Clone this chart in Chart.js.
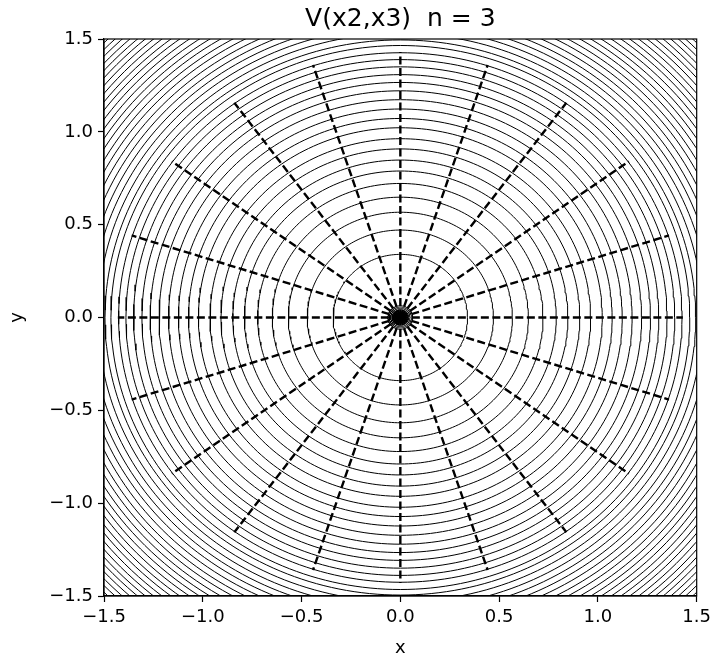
<!DOCTYPE html>
<html>
<head>
<meta charset="utf-8">
<script src="https://cdn.jsdelivr.net/npm/chart.js@4/dist/chart.umd.min.js"></script>
<style>
  html, body { margin: 0; padding: 0; background: #fff; }
  #wrap { width: 716px; height: 659px; }
</style>
</head>
<body>
<div id="wrap"><canvas id="contourChart"></canvas></div>
<script>
// contour radii (x units), inner blob first
var innerRadii = [0.014, 0.021, 0.028, 0.035, 0.042, 0.049, 0.056, 0.063];
var contourRadii = [
  0.340, 0.471, 0.567, 0.648, 0.722, 0.789, 0.848, 0.908, 0.963, 1.022,
  1.072, 1.123, 1.173, 1.221, 1.266, 1.308, 1.350, 1.389, 1.426, 1.465,
  1.495, 1.530, 1.564, 1.597, 1.629, 1.661, 1.693, 1.723, 1.754, 1.783,
  1.812, 1.841, 1.870, 1.897, 1.925, 1.952, 1.979, 2.005, 2.031, 2.057,
  2.082, 2.107
];
// dashed rays: directions (degrees) and length
var rayAngles = [0, 18, 36, 54, 72, 90, 108, 126, 144, 162, 180, 198, 216, 234, 252, 270, 288, 306, 324, 342];
var rayLength = 1.43;
var tickValues = [-1.5, -1.0, -0.5, 0.0, 0.5, 1.0, 1.5];
var titleText = 'V(x2,x3)  n = 3';

function circlePoints(r) {
  var pts = [];
  var n = 240;
  for (var i = 0; i <= n; i++) {
    var a = (i / n) * Math.PI * 2;
    pts.push({ x: r * Math.cos(a), y: r * Math.sin(a) });
  }
  return pts;
}

var datasets = [];
innerRadii.concat(contourRadii).forEach(function (r) {
  datasets.push({
    data: circlePoints(r),
    showLine: true,
    borderColor: '#000',
    borderWidth: 1,
    pointRadius: 0,
    tension: 0
  });
});
rayAngles.forEach(function (deg) {
  var a = deg * Math.PI / 180;
  datasets.push({
    data: [{ x: 0, y: 0 }, { x: rayLength * Math.cos(a), y: rayLength * Math.sin(a) }],
    showLine: true,
    borderColor: '#000',
    borderWidth: 2.4,
    borderDash: [8, 3.5],
    pointRadius: 0
  });
});

// title centred over the plot area + full frame, like matplotlib
var plotDecor = {
  id: 'plotDecor',
  afterDraw: function (chart) {
    var ctx = chart.ctx, area = chart.chartArea;
    ctx.save();
    ctx.strokeStyle = '#000';
    ctx.lineWidth = 1.2;
    ctx.strokeRect(area.left, area.top, area.right - area.left, area.bottom - area.top);
    ctx.fillStyle = '#000';
    ctx.font = '25px "DejaVu Sans"';
    ctx.textAlign = 'center';
    ctx.textBaseline = 'alphabetic';
    ctx.fillText(titleText, (area.left + area.right) / 2, area.top - 13);
    ctx.restore();
  }
};

function axisOpts(title, isX) {
  return {
    type: 'linear',
    min: -1.5,
    max: 1.5,
    afterBuildTicks: function (scale) {
      scale.ticks = tickValues.map(function (v) { return { value: v }; });
    },
    afterFit: function (scale) {
      if (isX) scale.height = 63; else scale.width = 104;
    },
    grid: {
      drawOnChartArea: false,
      drawTicks: true,
      tickLength: 6,
      tickWidth: 1.2,
      tickColor: '#000'
    },
    border: { display: true, color: '#000', width: 1.2 },
    ticks: {
      color: '#000',
      padding: 5,
      font: { family: 'DejaVu Sans', size: 18 },
      callback: function (v) { return v.toFixed(1).replace('-', '\u2212'); }
    },
    title: {
      display: true,
      text: title,
      color: '#000',
      font: { family: 'DejaVu Sans', size: 18 },
      padding: isX ? { top: 0, bottom: 0 } : { top: 7, bottom: 0 }
    }
  };
}

new Chart(document.getElementById('contourChart'), {
  type: 'scatter',
  data: { datasets: datasets },
  options: {
    responsive: true,
    maintainAspectRatio: false,
    animation: false,
    events: [],
    layout: { padding: { top: 39, right: 15, left: 0, bottom: 0 } },
    plugins: {
      legend: { display: false },
      tooltip: { enabled: false }
    },
    scales: {
      x: axisOpts('x', true),
      y: axisOpts('y', false)
    }
  },
  plugins: [plotDecor]
});
</script>
</body>
</html>
